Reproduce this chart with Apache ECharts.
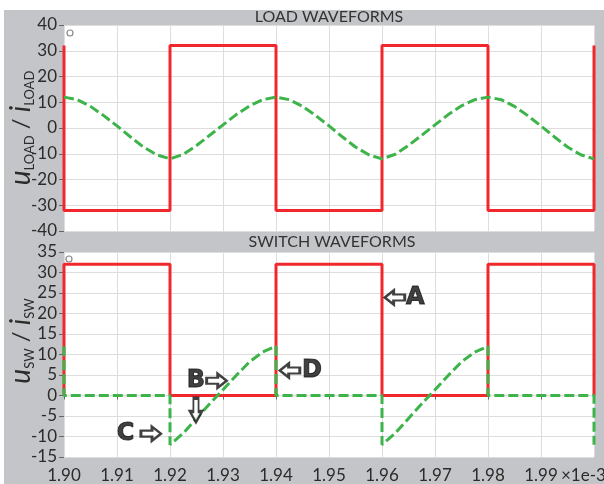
<!DOCTYPE html>
<html>
<head>
<meta charset="utf-8">
<script src="https://cdn.jsdelivr.net/npm/echarts@6/dist/echarts.min.js"></script>
<style>
  html, body { margin: 0; padding: 0; background: #fff; }
  #chart { position: absolute; left: 4px; top: 10px; width: 600px; height: 474px; background: #c4c5c8; }
</style>
</head>
<body>
<div id="chart"></div>
<script>
// time axis in microseconds, labels shown as ms (x 1e-3 s)
const timeTicks = [1900, 1910, 1920, 1930, 1940, 1950, 1960, 1970, 1980, 1990, 2000]

// LOAD WAVEFORMS
const loadVoltT = [1900, 1900, 1920, 1920, 1940, 1940, 1960, 1960, 1980, 1980, 2000, 2000]
const loadVolt = [32, -32, -32, 32, 32, -32, -32, 32, 32, -32, -32, 32]

const loadCurT = [
  1900, 1902.5, 1905, 1907.5, 1910, 1912.5, 1915, 1917.5,
  1920, 1922.5, 1925, 1927.5, 1930, 1932.5, 1935, 1937.5,
  1940, 1942.5, 1945, 1947.5, 1950, 1952.5, 1955, 1957.5,
  1960, 1962.5, 1965, 1967.5, 1970, 1972.5, 1975, 1977.5,
  1980, 1982.5, 1985, 1987.5, 1990, 1992.5, 1995, 1997.5, 2000
]
const loadCur = [
  12, 11, 8.4, 4.8, 0.8, -3.4, -7.4, -10.4,
  -12, -10.2, -6.8, -2.8, 1.2, 5.2, 8.6, 11,
  12, 11, 8.4, 4.8, 0.8, -3.4, -7.4, -10.4,
  -12, -10.2, -6.8, -2.8, 1.2, 5.2, 8.6, 11,
  12, 11, 8.4, 4.8, 0.8, -3.4, -7.4, -10.4, -12
]

// SWITCH WAVEFORMS
const swVoltT = [1900, 1900, 1920, 1920, 1940, 1940, 1960, 1960, 1980, 1980, 2000, 2000]
const swVolt = [0, 32, 32, 0, 0, 32, 32, 0, 0, 32, 32, 0]

const swCurT = [
  1900, 1900, 1920,
  1920, 1922.5, 1925, 1927.5, 1930, 1932.5, 1935, 1937.5, 1940,
  1940, 1960,
  1960, 1962.5, 1965, 1967.5, 1970, 1972.5, 1975, 1977.5, 1980,
  1980, 2000, 2000
]
const swCur = [
  12, 0, 0,
  -12, -9.2, -5.6, -2, 1.4, 4.9, 8.2, 10.6, 12,
  0, 0,
  -12, -9.2, -5.6, -2, 1.4, 4.9, 8.2, 10.6, 12,
  0, 0, -12
]

// annotation letters and their block arrows (switch plot coordinates)
const letters = ['A', 'B', 'C', 'D']
const letterT = [1966.3, 1924.9, 1911.6, 1946.8]
const letterV = [23.9, 3.5, -9.3, 6.1]
const arrowT = [1962.4, 1928.8, 1924.9, 1916.4, 1942.6]
const arrowV = [23.9, 3.6, -3.6, -9.3, 6.1]
const arrowDir = ['left', 'right', 'down', 'right', 'left']

const RED = '#f0282d'
const GREEN = '#3cb44a'
const FONT = 'Lato'
const ARROW_PATH = 'path://M0,4 L10,4 L10,0 L18,7 L10,14 L10,10 L0,10 Z'
const ROT = { right: 0, left: 180, down: -90 }

const zip = (xs, ys) => xs.map((x, i) => [x, ys[i]])

const chart = echarts.init(document.getElementById('chart'))

const xAxisBase = {
  type: 'value',
  min: timeTicks[0],
  max: timeTicks[timeTicks.length - 1],
  interval: 10,
  axisLine: { show: false },
  splitLine: { show: true, lineStyle: { color: '#dedede', width: 1 } }
}

const yAxisBase = {
  type: 'value',
  axisLine: { show: false },
  axisTick: { show: true, length: 5, lineStyle: { color: '#666' } },
  axisLabel: { fontSize: 17, color: '#2b2b2b', fontFamily: FONT, margin: 7 },
  splitLine: { show: true, lineStyle: { color: '#dedede', width: 1 } }
}

const nameRich = {
  u: { fontSize: 28, fontStyle: 'italic', fontFamily: FONT, fill: '#2b2b2b', color: '#2b2b2b', lineHeight: 30 },
  s: { fontSize: 13, fontFamily: FONT, fill: '#2b2b2b', color: '#2b2b2b', lineHeight: 12, verticalAlign: 'bottom' },
  n: { fontSize: 24, fontFamily: FONT, fill: '#2b2b2b', color: '#2b2b2b', lineHeight: 30 }
}

const option = {
  animation: false,
  grid: [
    { left: 60, top: 15, width: 530, height: 206, show: true, backgroundColor: '#fff', borderWidth: 0 },
    { left: 60, top: 242, width: 530, height: 208, show: true, backgroundColor: '#fff', borderWidth: 0 }
  ],
  xAxis: [
    Object.assign({}, xAxisBase, {
      gridIndex: 0,
      axisTick: { show: false },
      axisLabel: { show: false }
    }),
    Object.assign({}, xAxisBase, {
      gridIndex: 1,
      axisTick: { show: true, length: 4, lineStyle: { color: '#666' } },
      axisLabel: {
        fontSize: 17, color: '#2b2b2b', fontFamily: FONT, margin: 10,
        formatter: v => (v === 2000 ? '' : (v / 1000).toFixed(2))
      }
    })
  ],
  yAxis: [
    Object.assign({}, yAxisBase, { gridIndex: 0, min: -40, max: 40, interval: 10 }),
    Object.assign({}, yAxisBase, { gridIndex: 1, min: -15, max: 35, interval: 5 })
  ],
  graphic: [
    {
      type: 'text', x: 325, y: 7,
      style: { text: 'LOAD WAVEFORMS', font: '16px ' + FONT, fill: '#333', align: 'center', verticalAlign: 'middle' }
    },
    {
      type: 'text', x: 328, y: 232,
      style: { text: 'SWITCH WAVEFORMS', font: '16px ' + FONT, fill: '#333', align: 'center', verticalAlign: 'middle' }
    },
    {
      type: 'text', x: 17, y: 118, rotation: Math.PI / 2,
      style: {
        text: '{u|u}{s|LOAD}{n| / }{u|i}{s|LOAD}', rich: nameRich,
        align: 'center', verticalAlign: 'middle'
      }
    },
    {
      type: 'text', x: 17, y: 331, rotation: Math.PI / 2,
      style: {
        text: '{u|u}{s|SW}{n| / }{u|i}{s|SW}', rich: nameRich,
        align: 'center', verticalAlign: 'middle'
      }
    },
    {
      type: 'text', x: 557, y: 466,
      style: { text: '×1e-3', font: '17px ' + FONT, fill: '#2b2b2b', align: 'left', verticalAlign: 'middle' }
    },
    // small cursor icons in the plot corners
    { type: 'circle', shape: { cx: 66, cy: 23, r: 3 }, style: { fill: '#fff', stroke: '#888', lineWidth: 1.2 } },
    { type: 'circle', shape: { cx: 65, cy: 249, r: 3 }, style: { fill: '#fff', stroke: '#888', lineWidth: 1.2 } }
  ],
  series: [
    {
      name: 'uLOAD', type: 'line', xAxisIndex: 0, yAxisIndex: 0,
      data: zip(loadVoltT, loadVolt), showSymbol: false,
      lineStyle: { color: RED, width: 3 }
    },
    {
      name: 'iLOAD', type: 'line', xAxisIndex: 0, yAxisIndex: 0,
      data: zip(loadCurT, loadCur), showSymbol: false,
      lineStyle: { color: GREEN, width: 3, type: [10, 4] }
    },
    {
      name: 'uSW', type: 'line', xAxisIndex: 1, yAxisIndex: 1,
      data: zip(swVoltT, swVolt), showSymbol: false,
      lineStyle: { color: RED, width: 3 }
    },
    {
      name: 'iSW', type: 'line', xAxisIndex: 1, yAxisIndex: 1,
      data: zip(swCurT, swCur), showSymbol: false,
      lineStyle: { color: GREEN, width: 3, type: [10, 4] }
    },
    {
      name: 'arrows', type: 'scatter', xAxisIndex: 1, yAxisIndex: 1, z: 10,
      symbol: ARROW_PATH, symbolKeepAspect: false,
      itemStyle: { color: '#fff', borderColor: '#111', borderWidth: 2.5 },
      data: arrowT.map((t, i) => ({
        value: [t, arrowV[i]],
        symbolRotate: ROT[arrowDir[i]],
        symbolSize: arrowDir[i] === 'down' ? [24, 12] : [20, 14]
      }))
    },
    {
      name: 'letters', type: 'scatter', xAxisIndex: 1, yAxisIndex: 1, z: 11,
      symbolSize: 1, itemStyle: { color: 'transparent' },
      data: letterT.map((t, i) => ({ value: [t, letterV[i]], name: letters[i] })),
      label: {
        show: true, position: 'inside', formatter: '{b}',
        fontSize: 24, fontWeight: 'bold', fontFamily: 'DejaVu Sans', color: '#111',
        textBorderColor: '#111', textBorderWidth: 1
      }
    }
  ]
}

chart.setOption(option)
</script>
</body>
</html>
